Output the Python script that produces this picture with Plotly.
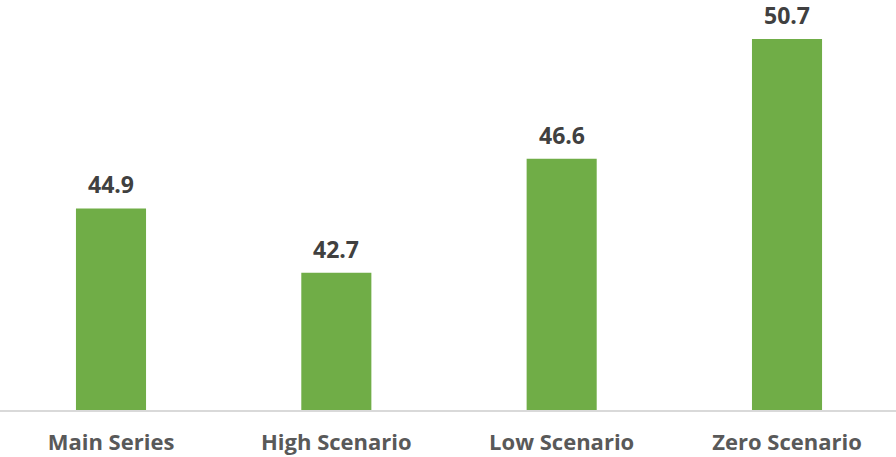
import plotly.graph_objects as go

categories = ["Main Series", "High Scenario", "Low Scenario", "Zero Scenario"]
values = [44.9, 42.7, 46.6, 50.7]
labels = ["44.9", "42.7", "46.6", "50.7"]

fig = go.Figure()
fig.add_trace(go.Bar(
    x=categories, y=values,
    marker=dict(color="#70ad47", line=dict(width=0)),
    width=0.311,
))

for c, v, t in zip(categories, values, labels):
    fig.add_annotation(x=c, y=v, text=t, showarrow=False, yanchor="bottom", yshift=7,
                       borderpad=0,
                       font=dict(family="Open Sans", size=23, color="#404040", weight="bold"))

fig.update_layout(
    width=896, height=457,
    margin=dict(l=0, r=0, t=1, b=47),
    plot_bgcolor="white", paper_bgcolor="white",
    showlegend=False,
    xaxis=dict(showline=True, linecolor="#d9d9d9", linewidth=1.5, ticks="",
               tickfont=dict(family="Open Sans", size=22, color="#595959", weight="bold"),
               ticklabelstandoff=12,
               range=[-0.4926, 3.4837]),
    yaxis=dict(range=[38, 52], visible=False, showgrid=False, zeroline=False),
)

fig.write_html("out.html")
